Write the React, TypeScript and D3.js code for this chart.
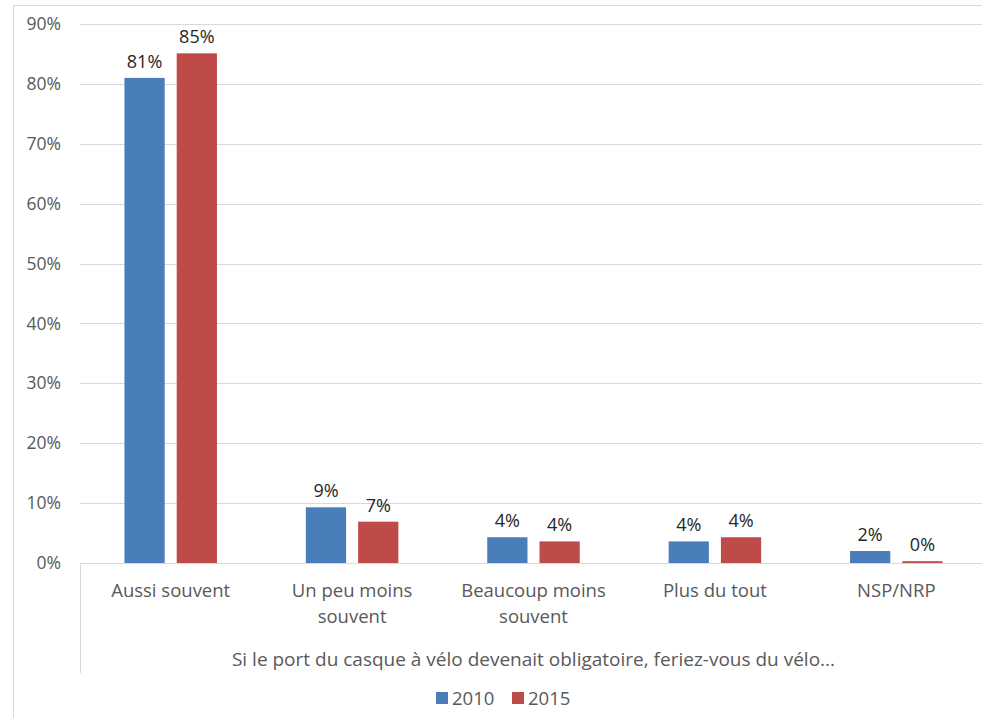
import * as d3 from 'd3';
import { useEffect, useRef } from 'react';

const categories = ['Aussi souvent', 'Un peu moins souvent', 'Beaucoup moins souvent', 'Plus du tout', 'NSP/NRP'];
const categoryLines = [['Aussi souvent'], ['Un peu moins', 'souvent'], ['Beaucoup moins', 'souvent'], ['Plus du tout'], ['NSP/NRP']];
const seriesNames = ['2010', '2015'];
const values2010 = [81, 9.3, 4.3, 3.6, 2.0];
const values2015 = [85.1, 6.9, 3.6, 4.3, 0.3];
const labels2010 = ['81%', '9%', '4%', '4%', '2%'];
const labels2015 = ['85%', '7%', '4%', '4%', '0%'];
const yTicks = [0, 10, 20, 30, 40, 50, 60, 70, 80, 90];
const axisTitle = 'Si le port du casque à vélo devenait obligatoire, feriez-vous du vélo...';

const colors = ['#4a7ebb', '#be4b48'];

const App = () => {
  const svgRef = useRef<SVGSVGElement | null>(null);

  useEffect(() => {
    if (!svgRef.current) return;
    const svg = d3.select(svgRef.current);
    svg.selectAll('*').remove();

    const W = 982;
    const H = 718;
    const left = 80;
    const right = 987;
    const top = 24;
    const bottom = 563;
    const font = "'Open Sans', 'DejaVu Sans', sans-serif";

    // outer chart frame
    svg.append('path')
      .attr('d', `M13.5,${H} V5.5 H${W}`)
      .attr('fill', 'none')
      .attr('stroke', '#d9d9d9');

    const y = d3.scaleLinear().domain([0, 90]).range([bottom, top]);
    const x0 = d3.scaleBand().domain(categories).range([left, right])
      .paddingInner(0.49).paddingOuter(0.245);
    const x1 = d3.scaleBand().domain(seriesNames).range([0, x0.bandwidth()]).paddingInner(0.23);

    // gridlines
    svg.append('g')
      .selectAll('line')
      .data(yTicks)
      .join('line')
      .attr('x1', left)
      .attr('x2', W)
      .attr('y1', d => Math.round(y(d)) + 0.5)
      .attr('y2', d => Math.round(y(d)) + 0.5)
      .attr('stroke', '#d9d9d9');

    // y tick labels
    svg.append('g')
      .selectAll('text')
      .data(yTicks)
      .join('text')
      .attr('x', 61)
      .attr('y', d => y(d))
      .attr('dy', '0.35em')
      .attr('text-anchor', 'end')
      .style('font-family', font)
      .style('font-size', '17.5px')
      .style('fill', '#595959')
      .text(d => `${d}%`);

    // category axis left edge
    svg.append('line')
      .attr('x1', left + 0.5)
      .attr('x2', left + 0.5)
      .attr('y1', bottom)
      .attr('y2', 673)
      .attr('stroke', '#d9d9d9');

    const series = [
      { name: seriesNames[0], values: values2010, labels: labels2010, color: colors[0] },
      { name: seriesNames[1], values: values2015, labels: labels2015, color: colors[1] },
    ];

    series.forEach(s => {
      const g = svg.append('g');
      g.selectAll('rect')
        .data(categories)
        .join('rect')
        .attr('x', (c) => (x0(c) || 0) + (x1(s.name) || 0))
        .attr('width', x1.bandwidth())
        .attr('y', (_, i) => y(s.values[i]))
        .attr('height', (_, i) => bottom - y(s.values[i]))
        .attr('fill', s.color);

      g.selectAll('text')
        .data(categories)
        .join('text')
        .attr('x', (c) => (x0(c) || 0) + (x1(s.name) || 0) + x1.bandwidth() / 2)
        .attr('y', (_, i) => y(s.values[i]) - 10)
        .attr('text-anchor', 'middle')
        .style('font-family', font)
        .style('font-size', '18px')
        .style('fill', '#262626')
        .text((_, i) => s.labels[i]);
    });

    // category labels
    const cat = svg.append('g');
    categories.forEach((c, i) => {
      const cx = (x0(c) || 0) + x0.bandwidth() / 2;
      categoryLines[i].forEach((line, j) => {
        cat.append('text')
          .attr('x', cx)
          .attr('y', 597 + j * 26)
          .attr('text-anchor', 'middle')
          .style('font-family', font)
          .style('font-size', '18.5px')
          .style('fill', '#595959')
          .text(line);
      });
    });

    // axis title
    svg.append('text')
      .attr('x', (left + right) / 2)
      .attr('y', 666)
      .attr('text-anchor', 'middle')
      .style('font-family', font)
      .style('font-size', '19px')
      .style('fill', '#595959')
      .text(axisTitle);

    // legend
    const legendX = [436, 512];
    series.forEach((s, i) => {
      svg.append('rect')
        .attr('x', legendX[i])
        .attr('y', 692)
        .attr('width', 12)
        .attr('height', 12)
        .attr('fill', s.color);
      svg.append('text')
        .attr('x', legendX[i] + 16)
        .attr('y', 705)
        .style('font-family', font)
        .style('font-size', '18.5px')
        .style('fill', '#595959')
        .text(s.name);
    });
  }, []);

  return (
    <svg
      ref={svgRef}
      width={982}
      height={718}
      style={{ position: 'absolute', left: 0, top: 0, background: '#fff' }}
    />
  );
};

export default App;
